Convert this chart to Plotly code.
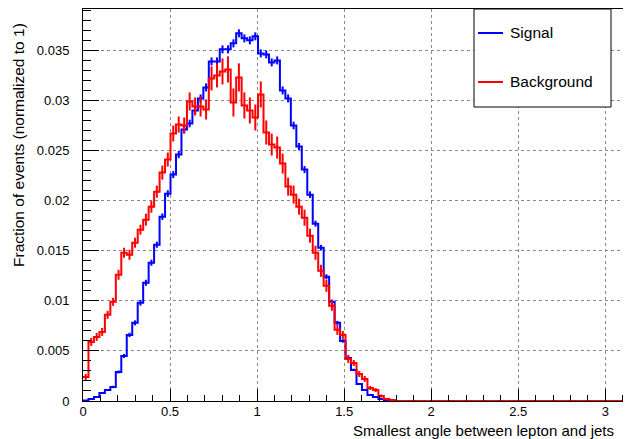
import numpy as np
import plotly.graph_objects as go

# ---------------- data ----------------
n_bins = 100
x_min, x_max = 0.0, np.pi

signal_vals = [
    0.00005, 0.0002, 0.0004, 0.0008, 0.0011, 0.0014, 0.0029, 0.0045, 0.0066, 0.0078,
    0.0098, 0.0118, 0.0138, 0.0156, 0.0184, 0.0207, 0.0226, 0.0246, 0.0271, 0.0277,
    0.0290, 0.0302, 0.0313, 0.0339, 0.0339, 0.0351, 0.0351, 0.0357, 0.0367, 0.0362,
    0.0360, 0.0364, 0.0347, 0.0346, 0.0338, 0.0340, 0.0310, 0.0302, 0.0275, 0.0254,
    0.0231, 0.0206, 0.0177, 0.0153, 0.0124, 0.0099, 0.0078, 0.0060, 0.0043, 0.0031,
    0.0017, 0.0011, 0.0006, 0.0004, 0.0002, 0.0001,
]
signal_errs = [
    0.00003, 0.00005, 0.00007, 0.0001, 0.0001, 0.00012, 0.00015, 0.0002, 0.00022, 0.00025,
    0.00028, 0.0003, 0.0003, 0.0003, 0.00032, 0.00034, 0.00035, 0.00036, 0.00038, 0.00038,
    0.0004, 0.0004, 0.0004, 0.0004, 0.0004, 0.0004, 0.0004, 0.0004, 0.0004, 0.0004,
    0.0004, 0.0004, 0.0004, 0.0004, 0.0004, 0.0004, 0.0004, 0.0004, 0.00038, 0.00036,
    0.00035, 0.00033, 0.0003, 0.00028, 0.00025, 0.00022, 0.0002, 0.00017, 0.00015, 0.00012,
    0.0001, 0.00008, 0.00006, 0.00005, 0.00003, 0.00002,
]
background_vals = [
    0.0024, 0.0059, 0.0064, 0.0069, 0.0086, 0.0099, 0.0126, 0.0148, 0.0146, 0.0158,
    0.0171, 0.0181, 0.0194, 0.0209, 0.0228, 0.0241, 0.0267, 0.0276, 0.0275, 0.0299,
    0.0294, 0.0294, 0.0291, 0.0322, 0.0325, 0.0329, 0.0331, 0.0298, 0.0323, 0.0295,
    0.0290, 0.0283, 0.0306, 0.0268, 0.0256, 0.0253, 0.0237, 0.0214, 0.0206, 0.0194,
    0.0183, 0.0165, 0.0148, 0.0130, 0.0115, 0.0095, 0.0071, 0.0066, 0.0042, 0.0038,
    0.0027, 0.0022, 0.0013, 0.0011, 0.0005, 0.0002, 0.0001,
]
background_errs = [
    0.0003, 0.0004, 0.0004, 0.0004, 0.0004, 0.0004, 0.0005, 0.0005, 0.0005, 0.0005,
    0.0005, 0.0006, 0.0006, 0.0006, 0.0007, 0.0007, 0.0008, 0.0008, 0.0008, 0.0009,
    0.0009, 0.0010, 0.0010, 0.0012, 0.0012, 0.0013, 0.0013, 0.0014, 0.0014, 0.0013,
    0.0013, 0.0013, 0.0013, 0.0012, 0.0011, 0.0011, 0.0010, 0.0009, 0.0009, 0.0008,
    0.0008, 0.0007, 0.0007, 0.0006, 0.0006, 0.0005, 0.0005, 0.0004, 0.0004, 0.0003,
    0.0003, 0.0003, 0.0002, 0.0002, 0.00015, 0.0001, 0.00005,
]

x_tick_vals = [0, 0.5, 1, 1.5, 2, 2.5, 3]
x_tick_text = ["0", "0.5", "1", "1.5", "2", "2.5", "3"]
y_tick_vals = [0, 0.005, 0.01, 0.015, 0.02, 0.025, 0.03, 0.035]
y_tick_text = ["0", "0.005", "0.01", "0.015", "0.02", "0.025", "0.03", "0.035"]

series_names = ["Signal", "Background"]
series_colors = ["#0000ff", "#ff0000"]

x_title = "Smallest angle between lepton and jets"
y_title = "Fraction of events (normalized to 1)"


def pad(a):
    return list(a) + [0.0] * (n_bins - len(a))


edges = np.linspace(x_min, x_max, n_bins + 1)
centers = 0.5 * (edges[:-1] + edges[1:])

FONT = "Liberation Sans, Arial, Helvetica, sans-serif"
fig = go.Figure()

for vals, errs, color in [(signal_vals, signal_errs, series_colors[0]),
                          (background_vals, background_errs, series_colors[1])]:
    v = pad(vals)
    e = pad(errs)
    fig.add_trace(go.Scatter(
        x=list(edges), y=v + [v[-1]], mode="lines", line=dict(color=color, width=2, shape="hv"),
        showlegend=False, hoverinfo="skip"))
    fig.add_trace(go.Scatter(
        x=list(centers), y=v, mode="markers", marker=dict(size=1, color=color, opacity=0),
        error_y=dict(type="data", array=e, visible=True, color=color, thickness=2, width=0),
        showlegend=False, hoverinfo="skip"))

# geometry: the page body has an 8px margin, so work in window pixels minus 8
OFF = 8
W, H = 631 - OFF, 439 - OFF
PL, PR, PT, PB = 83, 630, 9, 401          # plot frame in window pixels
ML, MR, MT, MB = PL - OFF, W - (PR - OFF), PT - OFF, H - (PB - OFF)
pw, ph = W - ML - MR, H - MT - MB


def px_x(p):
    return (p - OFF - ML) / pw


def px_y(p):
    return (H - MB - (p - OFF)) / ph


fig.update_layout(
    width=W, height=H,
    margin=dict(l=ML, r=MR, t=MT, b=MB, pad=0, autoexpand=False),
    paper_bgcolor="white", plot_bgcolor="white",
    font=dict(family=FONT, size=13, color="black"),
    showlegend=False,
)
fig.update_xaxes(
    range=[x_min, x_max], showline=True, linecolor="black", linewidth=1, mirror=True,
    ticks="inside", ticklen=12, tickcolor="black", tickwidth=1,
    tickmode="array", tickvals=x_tick_vals, ticktext=x_tick_text,
    minor=dict(ticks="inside", ticklen=6, tickcolor="black", tickmode="linear", tick0=0, dtick=0.1, showgrid=False),
    showgrid=True, gridcolor="#8a8a8a", griddash="dot", gridwidth=1, zeroline=False,
    tickfont=dict(size=13, family=FONT), ticklabelstandoff=-2, automargin=False,
)
fig.update_yaxes(
    range=[0, 0.03913], showline=True, linecolor="black", linewidth=1, mirror=True,
    ticks="inside", ticklen=16, tickcolor="black", tickwidth=1,
    tickmode="array", tickvals=y_tick_vals, ticktext=y_tick_text,
    minor=dict(ticks="inside", ticklen=8, tickcolor="black", tickmode="linear", tick0=0, dtick=0.001, showgrid=False),
    showgrid=True, gridcolor="#8a8a8a", griddash="dot", gridwidth=1, zeroline=False,
    tickfont=dict(size=13, family=FONT), ticklabelstandoff=10, automargin=False,
)

# axis titles (ROOT style: aligned to the axis ends)
fig.add_annotation(text=x_title, xref="paper", yref="paper", x=px_x(616), y=px_y(430),
                   xanchor="right", yanchor="middle", showarrow=False, font=dict(size=15, family=FONT))
fig.add_annotation(text=y_title, xref="paper", yref="paper", x=px_x(18), y=px_y(21),
                   xanchor="center", yanchor="top", textangle=-90, showarrow=False,
                   font=dict(size=15.5, family=FONT))

# legend box
fig.add_shape(type="rect", xref="paper", yref="paper", x0=px_x(474), x1=px_x(611),
              y0=px_y(107), y1=px_y(9), line=dict(color="black", width=1), fillcolor="white", layer="above")
for i, (name, color) in enumerate(zip(series_names, series_colors)):
    yy = [33, 82][i]
    fig.add_shape(type="line", xref="paper", yref="paper", x0=px_x(478), x1=px_x(503),
                  y0=px_y(yy), y1=px_y(yy), line=dict(color=color, width=2), layer="above")
    fig.add_annotation(text=name, xref="paper", yref="paper", x=px_x(508), y=px_y(yy),
                       xanchor="left", yanchor="middle", showarrow=False, font=dict(size=15.5, family=FONT))

fig.write_html("out.html")
